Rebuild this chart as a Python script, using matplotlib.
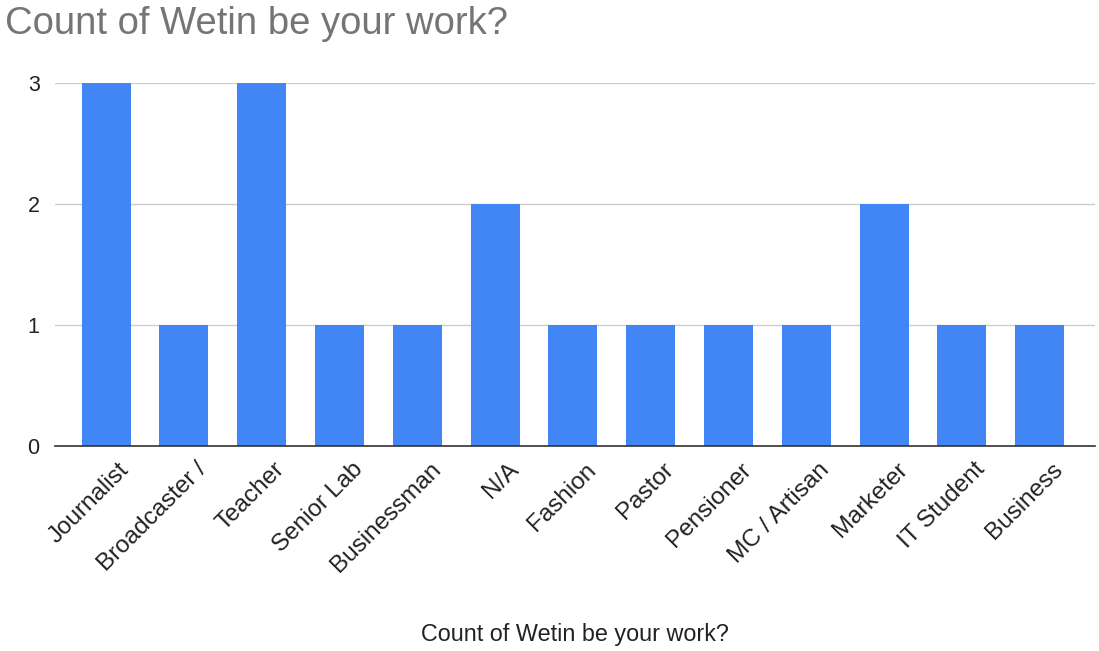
import matplotlib.pyplot as plt
from matplotlib.transforms import ScaledTranslation

jobs = ['Journalist', 'Broadcaster /', 'Teacher', 'Senior Lab', 'Businessman',
        'N/A', 'Fashion', 'Pastor', 'Pensioner', 'MC / Artisan', 'Marketer',
        'IT Student', 'Business']
counts = [3, 1, 3, 1, 1, 2, 1, 1, 1, 1, 2, 1, 1]

plt.rcParams['font.family'] = ['Liberation Sans', 'DejaVu Sans']

fig = plt.figure(figsize=(10.99, 6.51), dpi=100)
ax = fig.add_axes([55 / 1099, 1 - 446 / 651, 1040 / 1099, 363 / 651])

ax.bar(range(len(jobs)), counts, width=0.63, color='#4285f4', zorder=3)

ax.set_xlim(-0.656, 12.71)
ax.set_ylim(0, 3)
ax.set_yticks([0, 1, 2, 3])
ax.yaxis.grid(True, color='#cccccc', lw=1, zorder=0)
ax.set_axisbelow(True)
for s in ['top', 'right', 'left']:
    ax.spines[s].set_visible(False)
ax.spines['bottom'].set_color('#333333')
ax.spines['bottom'].set_linewidth(1.2)
ax.spines['bottom'].set_zorder(4)
ax.tick_params(axis='both', length=0, labelcolor='#222222')
ax.tick_params(axis='y', pad=11, labelsize=15.5)
ax.set_xticks(range(len(jobs)))
ax.set_xticklabels(jobs, rotation=45, ha='right', va='top', rotation_mode='anchor')
ax.tick_params(axis='x', pad=9, labelsize=17.5)
shift = ScaledTranslation(0.12, 0, fig.dpi_scale_trans)
for lab in ax.get_xticklabels():
    lab.set_transform(lab.get_transform() + shift)

fig.text(5 / 1099, 1 - 24 / 651, 'Count of Wetin be your work?', fontsize=27.5,
         color='#757575', va='center', ha='left')
fig.text(575 / 1099, 1 - 634 / 651, 'Count of Wetin be your work?', fontsize=16.8,
         color='#222222', va='center', ha='center')

fig.savefig('out.png', dpi=100)
